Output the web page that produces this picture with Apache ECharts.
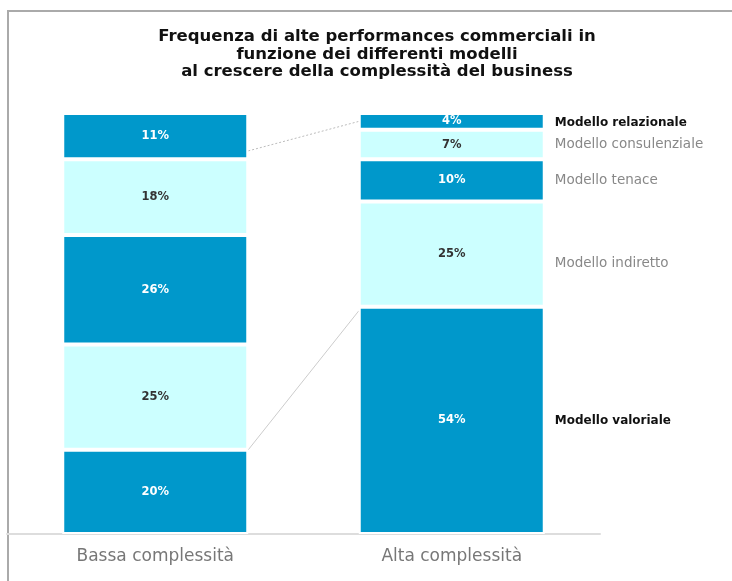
<!DOCTYPE html>
<html><head><meta charset="utf-8">
<script src="https://cdn.jsdelivr.net/npm/echarts@6/dist/echarts.min.js"></script>
<style>html,body{margin:0;padding:0;background:#fff}#c{width:732px;height:581px}</style>
</head><body><div id="c"></div>
<script>
var categories = ['Bassa complessità', 'Alta complessità'];
var models = ['Modello valoriale', 'Modello indiretto', 'Modello tenace', 'Modello consulenziale', 'Modello relazionale'];
var bassa = [20, 25, 26, 18, 11];
var alta = [54, 25, 10, 7, 4];
var connectors = [[91, 98], [20, 53]];
var titleLines = ['Frequenza di alte performances commerciali in', 'funzione dei differenti modelli', 'al crescere della complessità del business'];

var DARK = '#0098CB', LIGHT = '#CCFFFF';
var WIDE = '"DejaVu Sans", sans-serif';
var BW = 186;
var nameBold = [true, false, false, false, true];
var nameOffset = [[0, 1], [0, 9], [0, 0], [0, 0], [0, 1]];

var series = [];
models.forEach(function (m, i) {
  var dark = i % 2 === 0;
  series.push({
    name: m, type: 'bar', stack: 'a', barWidth: BW,
    data: [bassa[i], alta[i]],
    itemStyle: { color: dark ? DARK : LIGHT, borderColor: '#fff', borderWidth: 2 },
    label: { show: true, position: 'inside', formatter: '{c}%', fontFamily: WIDE, fontWeight: 'bold', fontSize: 11.5, color: dark ? '#fff' : '#333' },
    emphasis: { disabled: true }
  });
});
models.forEach(function (m, i) {
  series.push({
    name: m + '_lbl', type: 'bar', stack: 'b', barWidth: BW, xAxisIndex: 1,
    data: ['-', alta[i]],
    itemStyle: { color: 'rgba(0,0,0,0)' },
    label: { show: true, position: 'right', distance: 10, offset: nameOffset[i], formatter: m, fontFamily: WIDE,
      fontSize: nameBold[i] ? 12 : 13.5,
      fontWeight: nameBold[i] ? 'bold' : 'normal', color: nameBold[i] ? '#111' : '#888' },
    emphasis: { disabled: true }, silent: true
  });
});
series.push({
  type: 'custom', xAxisIndex: 0, silent: true, z: 1,
  data: connectors.map(function (c, k) { return [k, c[0], c[1]]; }),
  renderItem: function (params, api) {
    var p0 = api.coord([0, api.value(1)]);
    var p1 = api.coord([1, api.value(2)]);
    var dashed = api.value(0) === 0;
    return { type: 'line', shape: { x1: p0[0] + BW / 2, y1: p0[1], x2: p1[0] - BW / 2, y2: p1[1] },
      style: { stroke: dashed ? '#bbb' : '#ccc', lineWidth: 1, lineDash: dashed ? [2, 2] : null } };
  }
});

var chart = echarts.init(document.getElementById('c'));
chart.setOption({
  animation: false,
  title: {
    text: titleLines.join('\n'), left: 372, top: 23, textAlign: 'center',
    textStyle: { fontFamily: WIDE, fontWeight: 'bold', fontSize: 16.5, color: '#111', lineHeight: 17.5 }
  },
  graphic: [
    { type: 'line', shape: { x1: 8, y1: 11, x2: 732, y2: 11 }, style: { stroke: '#aaa', lineWidth: 2 } },
    { type: 'line', shape: { x1: 8, y1: 10, x2: 8, y2: 581 }, style: { stroke: '#aaa', lineWidth: 2 } }
  ],
  grid: { left: 7, right: 132, top: 113, bottom: 47 },
  xAxis: [
    { type: 'category', data: categories, axisTick: { show: false },
      axisLine: { lineStyle: { color: '#ddd', width: 2 } },
      axisLabel: { fontFamily: WIDE, fontSize: 17, color: '#777', margin: 14 } },
    { type: 'category', data: categories, show: false }
  ],
  yAxis: { type: 'value', min: 0, max: 100, show: false, splitLine: { show: false } },
  series: series
});
</script></body></html>
